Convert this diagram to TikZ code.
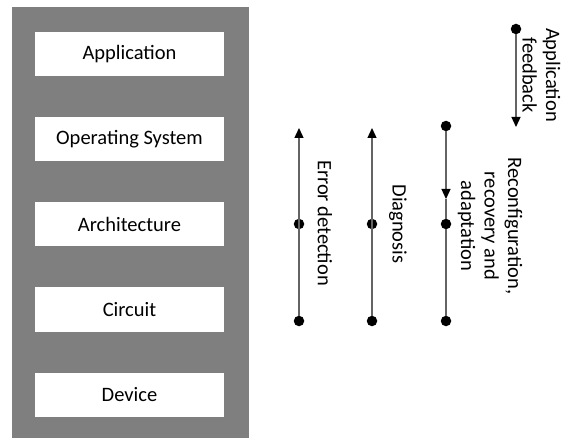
\documentclass[tikz,border=0pt]{standalone}
\usepackage{fontspec}
\setmainfont{Carlito}
\usetikzlibrary{arrows.meta}
\definecolor{panelgray}{RGB}{127,127,127}
\definecolor{linegray}{RGB}{100,100,100}
\begin{document}
\begin{tikzpicture}[x=1pt,y=-1pt,
  layerbox/.style={draw=none,fill=white,minimum width=189pt,minimum height=44pt,inner sep=0pt,
    font=\fontsize{20.5}{24}\selectfont},
  dot/.style={circle,fill=black,inner sep=0pt,minimum size=10.5pt},
  flow/.style={draw=linegray,line width=1.3pt},
  tip/.style={-{Triangle[length=10pt,width=9pt,black]}},
  vlabel/.style={rotate=-90,align=center,inner sep=0pt,font=\fontsize{20.5}{23.5}\selectfont}]
\useasboundingbox (0,0) rectangle (562,438);
\fill[panelgray] (12,7) rectangle (249,438);
\node[layerbox] (app) at (129.5,54) {Application};
\node[layerbox] (os) at (129.5,139) {Operating System};
\node[layerbox] (arch) at (129.5,224) {Architecture};
\node[layerbox] (circ) at (129.5,309.5) {Circuit};
\node[layerbox] (dev) at (129.5,395) {Device};
% Error detection
\coordinate (e1) at (299,128);
\node[dot] (e2) at (299,224) {};
\node[dot] (e3) at (299,321) {};
\draw[flow,tip] (e3) -- (e2.center) -- (e1);
\node[vlabel] (el) at (325,223) {Error detection};
% Diagnosis
\coordinate (d1) at (372,128);
\node[dot] (d2) at (372,224) {};
\node[dot] (d3) at (372,321) {};
\draw[flow,tip] (d3) -- (d2.center) -- (d1);
\node[vlabel] (dl) at (398,224) {Diagnosis};
% Reconfiguration
\node[dot] (r1) at (446,126) {};
\coordinate (ra) at (446,199);
\node[dot] (r2) at (446,224) {};
\node[dot] (r3) at (446,321) {};
\draw[flow,tip] (r1) -- (ra);
\draw[flow] (ra) -- (r2) -- (r3);
\node[vlabel] (rl) at (490,226) {Reconfiguration,\\recovery and\\adaptation};
% Application feedback
\node[dot] (a1) at (516,29) {};
\coordinate (a2) at (516,127);
\draw[flow,tip] (a1) -- (a2);
\node[vlabel] (al) at (541.5,75) {Application\\feedback};
\end{tikzpicture}
\end{document}
